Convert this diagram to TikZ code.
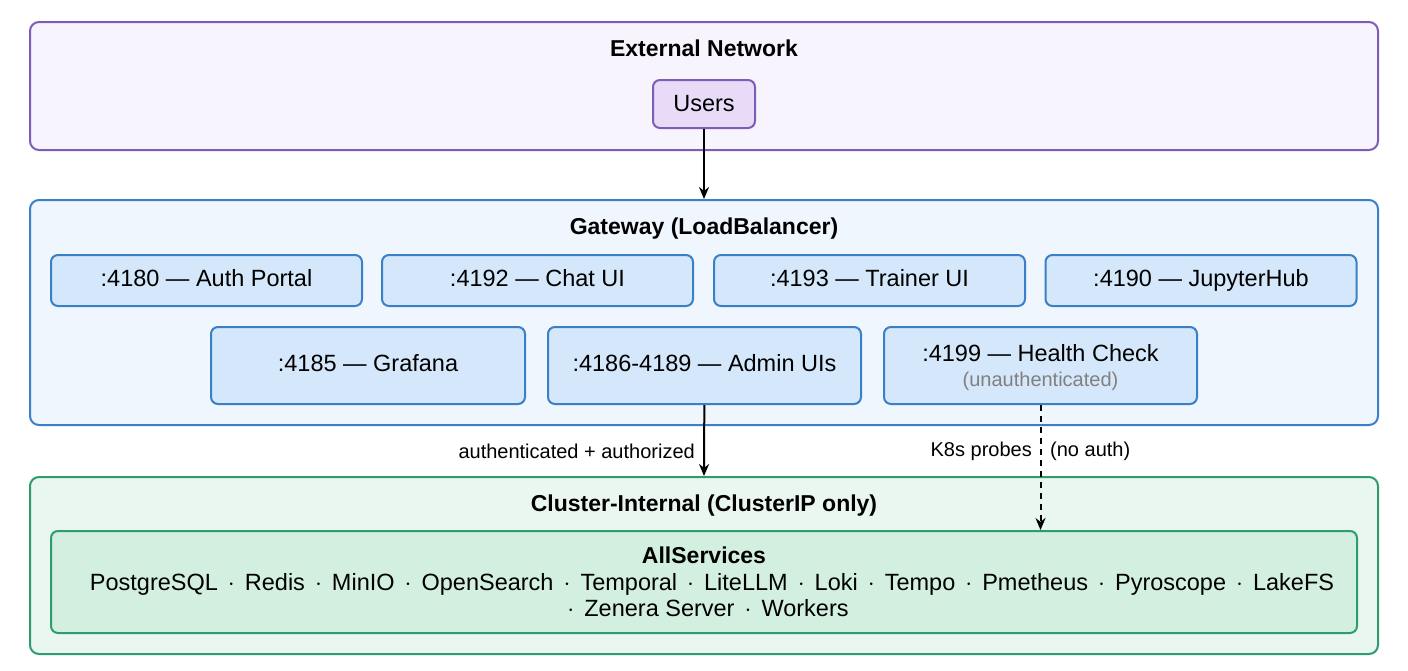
\documentclass[tikz,border=0pt]{standalone}
\usepackage{fontspec}
\setmainfont{Liberation Sans}
\usetikzlibrary{arrows.meta}
\definecolor{extline}{HTML}{7E5CB8}
\definecolor{extfill}{HTML}{F8F4FD}
\definecolor{userfill}{HTML}{E7DBF8}
\definecolor{gwline}{HTML}{3A80C6}
\definecolor{gwfill}{HTML}{EFF6FD}
\definecolor{portfill}{HTML}{D5E7FA}
\definecolor{clline}{HTML}{2E9C6E}
\definecolor{clfill}{HTML}{EAF7F0}
\definecolor{svcfill}{HTML}{D3EFE0}
\newcommand{\sep}{~\hspace{3.5pt}$\cdot$\hspace{3.5pt}~}
\begin{document}
\begin{tikzpicture}
[every node/.style={inner sep=0pt, font=\fontsize{23.5}{27}\selectfont},
 zone/.style={rounded corners=9pt, line width=2pt},
 port/.style={rounded corners=7pt, line width=2pt, draw=gwline, fill=portfill, minimum height=51pt, minimum width=311pt, text height=17pt, text depth=5pt},
 title/.style={font=\fontsize{23}{27}\selectfont\bfseries, text height=16pt, text depth=4pt},
 line/.style={text height=15pt, text depth=3pt},
 lbl/.style={font=\fontsize{20}{24}\selectfont},
 link/.style={line width=2pt, -{Stealth[length=12pt,width=10pt]}}]
\useasboundingbox (0pt, 0pt) rectangle (1408pt, -670pt);
% zones
\node (ext) [zone, draw=extline, fill=extfill, minimum width=1348pt, minimum height=128pt] at (704pt, -86pt) {};
\node (gw) [zone, draw=gwline, fill=gwfill, minimum width=1348pt, minimum height=225pt] at (704pt, -312.5pt) {};
\node (cl) [zone, draw=clline, fill=clfill, minimum width=1348pt, minimum height=177pt] at (704pt, -565.5pt) {};
\node (exttitle) [title] at (704pt, -50pt) {External Network};
\node (gwtitle) [title] at (704pt, -228pt) {Gateway (LoadBalancer)};
\node (cltitle) [title] at (704pt, -505pt) {Cluster-Internal (ClusterIP only)};
\node (users) [rounded corners=7pt, line width=2pt, draw=extline, fill=userfill, minimum width=102pt, minimum height=48pt] at (704pt, -104pt) {Users};
% ports
\node (auth) [port] at (206.5pt, -280.5pt) {:4180 --- Auth Portal};
\node (chat) [port] at (537.5pt, -280.5pt) {:4192 --- Chat UI};
\node (trainer) [port] at (869.5pt, -280.5pt) {:4193 --- Trainer UI};
\node (jupyter) [port] at (1201pt, -280.5pt) {:4190 --- JupyterHub};
\node (grafana) [port, minimum height=77pt, minimum width=314pt] at (368pt, -365.5pt) {:4185 --- Grafana};
\node (admin) [port, minimum height=77pt, minimum width=313pt] at (704.5pt, -365.5pt) {:4186-4189 --- Admin UIs};
\node (health) [port, minimum height=77pt, minimum width=313pt] at (1040.5pt, -365.5pt) {};
\node (healthtxt) [line] at (1040.5pt, -355pt) {:4199 --- Health Check};
\node (unauth) [lbl, text=gray] at (1040.5pt, -381pt) {(unauthenticated)};
% services
\node (svc) [rounded corners=7pt, line width=2pt, draw=clline, fill=svcfill, minimum width=1306pt, minimum height=102pt] at (704pt, -582pt) {};
\node (svctitle) [title] at (704pt, -557pt) {AllServices};
\node (svc1) [line] at (712pt, -584pt) {PostgreSQL\sep Redis\sep MinIO\sep OpenSearch\sep Temporal\sep LiteLLM\sep Loki\sep Tempo\sep Pmetheus\sep Pyroscope\sep LakeFS};
\node (svc2) [line] at (708pt, -610pt) {$\cdot$\hspace{3.5pt}~Zenera Server\sep Workers};
% links
\draw [link] (users) -- (gw.north);
\draw [link] (admin) -- (cl.north);
\draw [link, dashed, dash pattern=on 6pt off 5pt] (health.south) -- (health.south |- svc.north);
\node (lauth) [lbl, anchor=east] at (695pt, -451pt) {authenticated + authorized};
\node (lprobe) [lbl, anchor=east] at (1032pt, -451pt) {K8s probes};
\node (lnoauth) [lbl, anchor=west] at (1050pt, -451pt) {(no auth)};
\end{tikzpicture}
\end{document}
